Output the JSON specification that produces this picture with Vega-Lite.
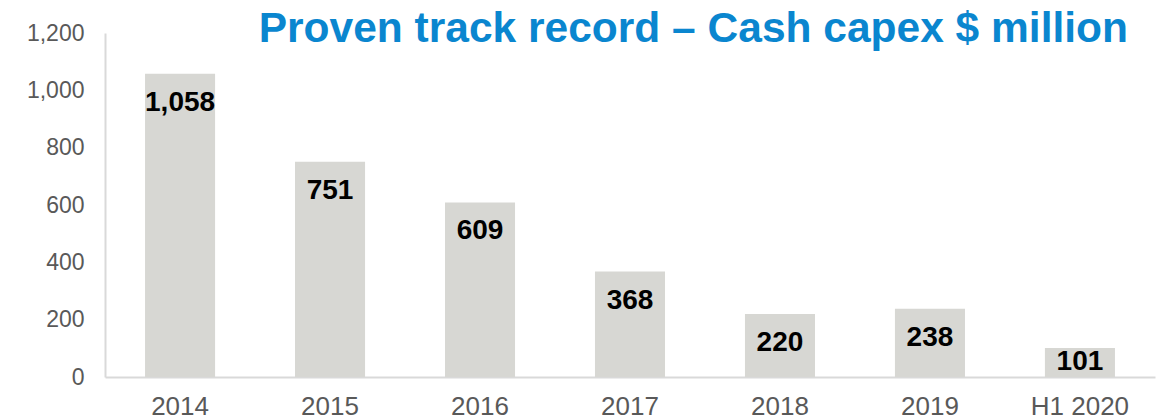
{
  "$schema": "https://vega.github.io/schema/vega-lite/v6.json",
  "width": 1050,
  "height": 344,
  "autosize": {"type": "none"},
  "padding": {"left": 105, "top": 33, "right": 7, "bottom": 42},
  "background": "white",
  "title": {
    "text": "Proven track record – Cash capex $ million",
    "anchor": "end",
    "font": "Liberation Sans",
    "fontSize": 42.5,
    "fontWeight": "bold",
    "color": "#0a86cf",
    "dx": -27,
    "dy": 50,
    "offset": -12,
    "baseline": "alphabetic"
  },
  "data": {
    "values": [
      {"period": "2014", "capex": 1058},
      {"period": "2015", "capex": 751},
      {"period": "2016", "capex": 609},
      {"period": "2017", "capex": 368},
      {"period": "2018", "capex": 220},
      {"period": "2019", "capex": 238},
      {"period": "H1 2020", "capex": 101}
    ]
  },
  "config": {
    "view": {"stroke": null},
    "axis": {"labelFont": "Liberation Sans", "labelColor": "#595959", "grid": false, "ticks": false, "domainColor": "#d9d9d9", "domainWidth": 2, "title": null}
  },
  "encoding": {
    "x": {
      "field": "period",
      "type": "nominal",
      "sort": null,
      "scale": {"paddingInner": 0.533, "paddingOuter": 0.267},
      "axis": {"labelAngle": 0, "labelPadding": 16, "labelFontSize": 26}
    },
    "y": {
      "field": "capex",
      "type": "quantitative",
      "scale": {"domain": [0, 1200]},
      "axis": {"values": [0, 200, 400, 600, 800, 1000, 1200], "format": ",d", "labelPadding": 21, "labelFontSize": 23}
    }
  },
  "layer": [
    {"mark": {"type": "bar", "color": "#d7d7d3"}},
    {
      "transform": [{"filter": "datum.capex >= 200"}],
      "mark": {"type": "text", "font": "Liberation Sans", "fontSize": 28, "fontWeight": "bold", "color": "#000000", "baseline": "middle", "dy": 29},
      "encoding": {"text": {"field": "capex", "type": "quantitative", "format": ",d"}}
    },
    {
      "transform": [{"filter": "datum.capex < 200"}],
      "mark": {"type": "text", "font": "Liberation Sans", "fontSize": 28, "fontWeight": "bold", "color": "#000000", "baseline": "middle", "dy": 14},
      "encoding": {"text": {"field": "capex", "type": "quantitative", "format": ",d"}}
    }
  ]
}
